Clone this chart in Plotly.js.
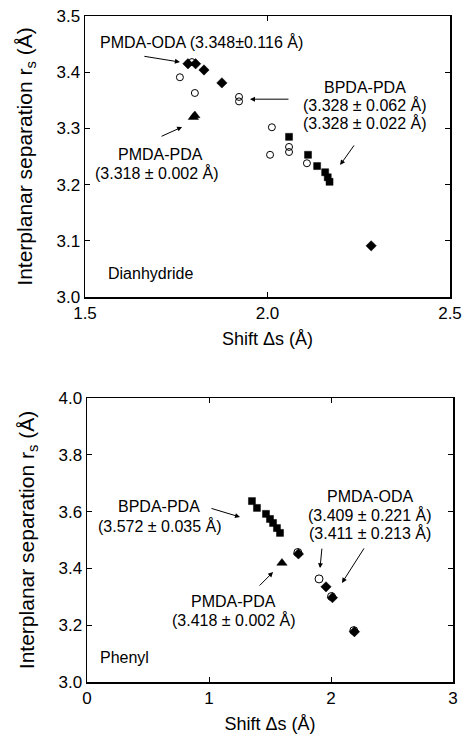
<!DOCTYPE html>
<html>
<head>
<meta charset="utf-8">
<script src="https://cdn.plot.ly/plotly-3.0.1.min.js"></script>
<style>html,body{margin:0;padding:0;background:#fff;}#chart{width:464px;height:736px;}</style>
</head>
<body>
<div id="chart"></div>
<script>
// ---- Dianhydride panel (top) ----
const dianOpenCircleX = [1.760, 1.793, 1.801, 1.922, 1.922, 2.012, 2.007, 2.059, 2.059, 2.108];
const dianOpenCircleY = [3.391, 3.418, 3.363, 3.356, 3.348, 3.302, 3.253, 3.267, 3.258, 3.238];
const dianSquareX = [2.059, 2.111, 2.136, 2.158, 2.165, 2.170];
const dianSquareY = [3.285, 3.253, 3.233, 3.222, 3.213, 3.205];
const dianDiamondX = [1.782, 1.803, 1.826, 1.875, 2.284];
const dianDiamondY = [3.415, 3.415, 3.404, 3.381, 3.091];
const dianTriangleX = [1.797, 1.801];
const dianTriangleY = [3.320, 3.323];

// ---- Phenyl panel (bottom) ----
const phenSquareX = [1.352, 1.393, 1.467, 1.500, 1.525, 1.557, 1.582];
const phenSquareY = [3.637, 3.613, 3.592, 3.574, 3.560, 3.542, 3.525];
const phenOpenCircleX = [1.728, 1.902, 2.004, 2.187];
const phenOpenCircleY = [3.456, 3.363, 3.301, 3.181];
const phenDiamondX = [1.733, 1.959, 2.012, 2.192];
const phenDiamondY = [3.451, 3.335, 3.297, 3.177];
const phenTriangleX = [1.598];
const phenTriangleY = [3.419];

const topXTicks = [1.5, 2.0, 2.5];
const topYTicks = [3.0, 3.1, 3.2, 3.3, 3.4, 3.5];
const botXTicks = [0, 1, 2, 3];
const botYTicks = [3.0, 3.2, 3.4, 3.6, 3.8, 4.0];

const FONT = "Liberation Sans, Arial, Helvetica, sans-serif";
const black = "#000";

function mk(x, y, sym, size, xa, ya, open) {
  return {
    x: x, y: y, type: "scatter", mode: "markers", xaxis: xa, yaxis: ya,
    hoverinfo: "skip", showlegend: false,
    marker: open
      ? {symbol: "circle-open", size: size, color: black, line: {color: black, width: 1}}
      : {symbol: sym, size: size, color: black, line: {color: black, width: 0.5}}
  };
}

const data = [
  mk(dianSquareX, dianSquareY, "square", 7, "x", "y", false),
  mk(dianDiamondX, dianDiamondY, "diamond", 8, "x", "y", false),
  mk(dianTriangleX, dianTriangleY, "triangle-up", 9, "x", "y", false),
  mk(dianOpenCircleX, dianOpenCircleY, "circle-open", 7, "x", "y", true),
  mk(phenSquareX, phenSquareY, "square", 7, "x2", "y2", false),
  mk(phenDiamondX, phenDiamondY, "diamond", 8, "x2", "y2", false),
  mk(phenOpenCircleX, phenOpenCircleY, "circle-open", 8, "x2", "y2", true),
  mk(phenTriangleX, phenTriangleY, "triangle-up", 9, "x2", "y2", false)
];

const axBase = {
  showgrid: false, zeroline: false, showline: true, linecolor: black, linewidth: 1.5,
  mirror: "ticks", ticks: "inside", ticklen: 5, tickwidth: 1, tickcolor: black,
  tickfont: {family: FONT, size: 17, color: black}
};
const yTitle = {text: "Interplanar separation r<sub>s</sub> (Å)", font: {family: FONT, size: 21, color: black}, standoff: 18};
const xTitle = {text: "Shift Δs (Å)", font: {family: FONT, size: 18, color: black}, standoff: 10};

const annFont = {family: FONT, size: 16, color: black};
function txt(x, y, t, xref, yref, xanchor) {
  return {x: x, y: y, xref: xref, yref: yref, text: t, showarrow: false, font: annFont, xanchor: xanchor || "center", yanchor: "middle", borderpad: 0};
}
function arr(x, y, ax, ay, xref, yref) {
  return {x: x, y: y, xref: xref, yref: yref, ax: ax, ay: ay, axref: "pixel", ayref: "pixel", text: "", showarrow: true,
    arrowhead: 2, arrowsize: 1, arrowwidth: 1, arrowcolor: black, standoff: 0};
}

const annotations = [
  txt(1.8205, 3.4537, "PMDA-ODA (3.348±0.116 Å)", "x", "y"),
  txt(2.267, 3.373, "BPDA-PDA", "x", "y"),
  txt(2.267, 3.341, "(3.328 ± 0.062 Å)", "x", "y"),
  txt(2.267, 3.309, "(3.328 ± 0.022 Å)", "x", "y"),
  txt(1.7055, 3.2535, "PMDA-PDA", "x", "y"),
  txt(1.697, 3.2206, "(3.318 ± 0.002 Å)", "x", "y"),
  txt(1.560, 3.041, "Dianhydride", "x", "y", "left"),
  arr(1.760, 3.418, -37, -6, "x", "y"),
  arr(1.952, 3.352, 40, 0, "x", "y"),
  arr(2.199, 3.235, 15, -21, "x", "y"),
  arr(1.766, 3.3025, -22, 10, "x", "y"),

  txt(0.590, 3.617, "BPDA-PDA", "x2", "y2"),
  txt(0.598, 3.549, "(3.572 ± 0.035 Å)", "x2", "y2"),
  txt(2.320, 3.653, "PMDA-ODA", "x2", "y2"),
  txt(2.320, 3.589, "(3.409 ± 0.221 Å)", "x2", "y2"),
  txt(2.320, 3.525, "(3.411 ± 0.213 Å)", "x2", "y2"),
  txt(1.197, 3.283, "PMDA-PDA", "x2", "y2"),
  txt(1.205, 3.218, "(3.418 ± 0.002 Å)", "x2", "y2"),
  txt(0.098, 3.085, "Phenyl", "x2", "y2", "left"),
  arr(1.254, 3.581, -30, -9, "x2", "y2"),
  arr(1.910, 3.401, 2, -21, "x2", "y2"),
  arr(2.090, 3.349, 23, -36, "x2", "y2"),
  arr(1.525, 3.387, -15, 15, "x2", "y2")
];

const layout = {
  width: 464, height: 736,
  margin: {l: 85, r: 11, t: 16, b: 54},
  paper_bgcolor: "#fff", plot_bgcolor: "#fff",
  showlegend: false,
  font: {family: FONT, color: black},
  xaxis: Object.assign({}, axBase, {domain: [0, 365/368], range: [1.5, 2.5], tickvals: topXTicks, tickformat: ".1f", anchor: "y", title: xTitle}),
  yaxis: Object.assign({}, axBase, {domain: [385/666, 1], range: [3.0, 3.5], tickvals: topYTicks, tickformat: ".1f", anchor: "x", title: yTitle}),
  xaxis2: Object.assign({}, axBase, {domain: [2/368, 1], range: [0, 3], tickvals: botXTicks, tickformat: "d", anchor: "y2", title: xTitle}),
  yaxis2: Object.assign({}, axBase, {domain: [0, 284/666], range: [3.0, 4.0], tickvals: botYTicks, tickformat: ".1f", anchor: "x2", title: yTitle}),
  annotations: annotations
};

Plotly.newPlot("chart", data, layout, {staticPlot: true, displayModeBar: false});
</script>
</body>
</html>
